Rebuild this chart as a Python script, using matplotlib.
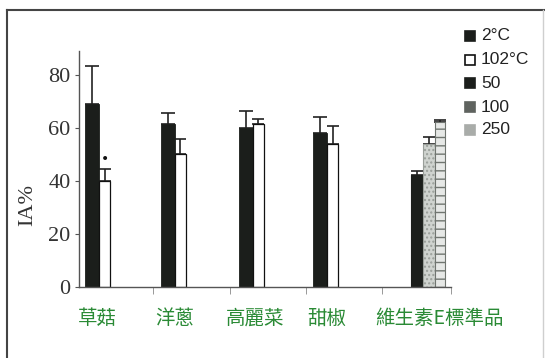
import matplotlib
matplotlib.use("Agg")
import matplotlib.pyplot as plt
from matplotlib.patches import Rectangle
from matplotlib.lines import Line2D

# ---- data ----
categories = ["草菇", "洋蔥", "高麗菜", "甜椒", "維生素E標準品"]
veg_2c = [69.1, 61.3, 60.1, 57.9]
veg_2c_err = [14.1, 4.4, 6.1, 6.1]
veg_102c = [40.0, 50.1, 61.3, 53.9]
veg_102c_err = [4.5, 5.7, 1.9, 7.0]
vite_labels = ["50", "100", "250"]
vite_values = [42.4, 53.8, 62.3]
vite_err = [1.4, 2.6, 0.6]
legend_labels = ["2°C", "102°C", "50", "100", "250"]
yticks = [0, 20, 40, 60, 80]

# ---- layout ----
W, H = 545, 358
fig = plt.figure(figsize=(W / 100, H / 100), dpi=100)
ax_l, ax_r, ax_b, ax_t = 79, 451, 287, 51
ax = fig.add_axes([ax_l / W, 1 - ax_b / H, (ax_r - ax_l) / W, (ax_b - ax_t) / H])
ax.set_xlim(ax_l, ax_r)
ax.set_ylim(0, 89)

group_centers = [97.5, 173, 251, 325.5]
w_dark, w_white = 14, 11
dark = "#1b1e1b"

xs_dark = [c - 12.5 for c in group_centers]
xs_white = [c + 1.5 for c in group_centers]
ax.bar(xs_dark, veg_2c, width=w_dark, align="edge", color=dark, edgecolor=dark, lw=0.6, zorder=2)
ax.bar(xs_white, veg_102c, width=w_white, align="edge", color="white", edgecolor="#111", lw=0.9, zorder=2)
ax.errorbar([x + w_dark / 2 for x in xs_dark], veg_2c, yerr=[[0] * 4, veg_2c_err],
            fmt="none", ecolor="#222", elinewidth=1.2, capsize=5, capthick=1.2, zorder=1)
ax.errorbar([x + w_white / 2 for x in xs_white], veg_102c, yerr=[[0] * 4, veg_102c_err],
            fmt="none", ecolor="#222", elinewidth=1.2, capsize=4, capthick=1.2, zorder=1)

# significance mark on 草菇 102°C
ax.text(xs_white[0] + w_white / 2, veg_102c[0] + veg_102c_err[0] + 1.0, "•",
        ha="center", va="bottom", fontsize=10, color="#111")

# vitamin E standard group
plt.rcParams["hatch.linewidth"] = 1.0
ve_left = [411, 423, 434.5]
ve_width = [12, 11.5, 10.5]
ve_face = [dark, "#cfd3cf", "#e6e8e6"]
ve_hatch = [None, "....", "--"]
ve_hcol = [dark, "#9a9f9a", "#707570"]
for x, v, wd, fc, ht, hc in zip(ve_left, vite_values, ve_width, ve_face, ve_hatch, ve_hcol):
    ax.bar([x], [v], width=wd, align="edge", color=fc, edgecolor=hc, lw=0.8,
           hatch=ht, zorder=2)
ax.errorbar([x + wd / 2 for x, wd in zip(ve_left, ve_width)], vite_values,
            yerr=[[0] * 3, vite_err], fmt="none", ecolor="#222", elinewidth=1.2,
            capsize=4, capthick=1.2, zorder=1)

# axes styling
for s in ["top", "right"]:
    ax.spines[s].set_visible(False)
for s in ["left", "bottom"]:
    ax.spines[s].set_color("#555")
    ax.spines[s].set_linewidth(1.0)
ax.set_yticks(yticks)
ax.set_yticklabels([str(v) for v in yticks], family="Liberation Serif", fontsize=16, color="#333")
ax.tick_params(axis="y", direction="out", length=3, width=0.8, color="#555", pad=3)

label_pos = [97, 175, 255, 327, 439]
ax.set_xticks(label_pos)
ax.set_xticklabels(categories, family=["Noto Sans CJK TC", "DejaVu Sans"], fontsize=14,
                   color="#2a8a35")
ax.tick_params(axis="x", which="major", length=0, pad=15)
ax.set_xticks([153, 230, 306, 382, 451], minor=True)
ax.tick_params(axis="x", which="minor", direction="out", length=5, width=0.6, color="#888")

fig.text(28 / W, 1 - 205 / H, "IA%", rotation=90, ha="center", va="center",
         family="Liberation Serif", fontsize=16, color="#333")

# legend (manual)
leg_face = [dark, "white", dark, "#5f635f", "#a9aca9"]
leg_edge = [dark, "#111", dark, "#5f635f", "#a9aca9"]
leg_y = [36, 60, 83, 107, 130]
for lab, fc, ec, y in zip(legend_labels, leg_face, leg_edge, leg_y):
    fig.add_artist(Rectangle(((465) / W, 1 - (y + 5) / H), 10 / W, 10 / H,
                             transform=fig.transFigure, facecolor=fc, edgecolor=ec, lw=1.2))
    fig.text(481 / W, 1 - y / H, lab, ha="left", va="center",
             family="Liberation Sans", fontsize=12.5, color="#222")

# outer frame
fig.add_artist(Line2D([7 / W, 7 / W], [-0.05, 1 - 10 / H], transform=fig.transFigure,
                      color="#444", lw=1.5))
fig.add_artist(Line2D([7 / W, 544 / W], [1 - 10 / H, 1 - 10 / H], transform=fig.transFigure,
                      color="#444", lw=1.5))
fig.add_artist(Line2D([543 / W, 543 / W], [-0.05, 1 - 10 / H], transform=fig.transFigure,
                      color="#cfcfcf", lw=1.0))

fig.savefig("out.png", dpi=100)
